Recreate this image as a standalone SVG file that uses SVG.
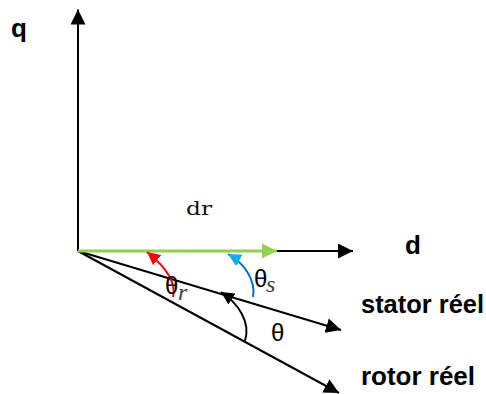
<svg xmlns="http://www.w3.org/2000/svg" width="486" height="394" viewBox="0 0 486 394">
<defs>
<style>
.ax{stroke:#000;stroke-width:2;fill:none}
.lbl{font-family:"Liberation Sans",Arial,sans-serif;font-weight:bold;font-size:26px;fill:#000}
.th{font-family:"Liberation Sans",Arial,sans-serif;font-size:24px;fill:#000}
.sub{font-family:"Liberation Serif","Times New Roman",serif;font-style:italic;font-size:24px;fill:#404040}
</style>
<marker id="ab" markerUnits="userSpaceOnUse" markerWidth="16" markerHeight="16" refX="15" refY="7.5" orient="auto"><path d="M0,0 L15,7.5 L0,15 z" fill="#000"/></marker>
<marker id="ag" markerUnits="userSpaceOnUse" markerWidth="16" markerHeight="16" refX="15" refY="7.5" orient="auto"><path d="M0,0 L15,7.5 L0,15 z" fill="#92D050"/></marker>
<marker id="sb" markerUnits="userSpaceOnUse" markerWidth="14" markerHeight="14" refX="13" refY="6.5" orient="auto"><path d="M0,0 L13,6.5 L0,13 z" fill="#000"/></marker>
<marker id="sr" markerUnits="userSpaceOnUse" markerWidth="14" markerHeight="14" refX="13" refY="6.5" orient="auto"><path d="M0,0 L13,6.5 L0,13 z" fill="#FF0000"/></marker>
<marker id="sc" markerUnits="userSpaceOnUse" markerWidth="14" markerHeight="14" refX="13" refY="6.5" orient="auto"><path d="M0,0 L13,6.5 L0,13 z" fill="#00B0F0"/></marker>
</defs>
<g id="connectors">
<line id="q-axis" class="ax" x1="78" y1="251" x2="78" y2="9.5" marker-end="url(#ab)"/>
<line id="d-axis" class="ax" x1="78" y1="251" x2="353" y2="251" marker-end="url(#ab)"/>
<line id="stator" class="ax" x1="78" y1="251" x2="341" y2="330" marker-end="url(#ab)"/>
<line id="rotor" class="ax" x1="78" y1="251" x2="339" y2="393" marker-end="url(#ab)"/>
<line id="dr-vec" x1="78" y1="251" x2="277" y2="251" stroke="#92D050" stroke-width="3" marker-end="url(#ag)"/>
<path id="arc-r" d="M173,297 C177,280 162,264 147,252" fill="none" stroke="#FF0000" stroke-width="2" marker-end="url(#sr)"/>
<path id="arc-s" d="M253,297 C256,280 244,263 228,254" fill="none" stroke="#0070C0" stroke-width="2" marker-end="url(#sc)"/>
<path id="arc-theta" d="M245,341 C251,322 238,303 221,292" fill="none" stroke="#000" stroke-width="2" marker-end="url(#sb)"/>
</g>
<g id="label-q"><text class="lbl" x="11" y="37">q</text></g>
<g id="label-d"><text class="lbl" x="405" y="254">d</text></g>
<g id="label-dr"><text x="186" y="215" font-family="'DejaVu Serif','Liberation Serif',serif" font-size="19" fill="#111" textLength="26" lengthAdjust="spacingAndGlyphs">dr</text></g>
<g id="label-stator"><text class="lbl" x="361" y="313" textLength="123" lengthAdjust="spacingAndGlyphs">stator réel</text></g>
<g id="label-rotor"><text class="lbl" x="361" y="385" textLength="114" lengthAdjust="spacingAndGlyphs">rotor réel</text></g>
<g id="label-theta-r"><text class="th" x="165" y="294">θ</text><text class="sub" x="178" y="300">r</text></g>
<g id="label-theta-s"><text class="th" x="254" y="287">θ</text><text class="sub" x="266" y="292">s</text></g>
<g id="label-theta"><text class="th" x="271" y="341">θ</text></g>
</svg>
